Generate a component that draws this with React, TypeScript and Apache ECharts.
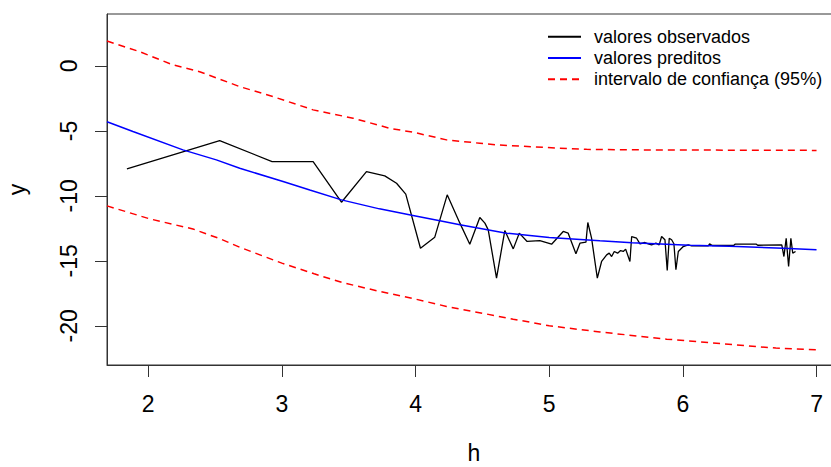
import React, { useEffect, useRef } from "react";
import * as echarts from "echarts";

// observed values (h, y)
const obsX = [1.841, 2.535, 2.927, 3.234, 3.446, 3.633, 3.77, 3.858, 3.927, 4.037, 4.144, 4.237, 4.332, 4.406, 4.481, 4.519, 4.544, 4.606, 4.668, 4.731, 4.776, 4.835, 4.93, 5.018, 5.105, 5.142, 5.2, 5.23, 5.275, 5.289, 5.317, 5.36, 5.392, 5.43, 5.449, 5.467, 5.487, 5.512, 5.534, 5.554, 5.572, 5.604, 5.617, 5.654, 5.679, 5.716, 5.741, 5.766, 5.798, 5.823, 5.841, 5.866, 5.883, 5.898, 5.916, 5.933, 5.948, 5.966, 6.003, 6.04, 6.066, 6.19, 6.2, 6.22, 6.38, 6.39, 6.55, 6.56, 6.74, 6.756, 6.773, 6.791, 6.808, 6.822, 6.843];
const obsY = [-7.92, -5.75, -7.36, -7.36, -10.49, -8.13, -8.46, -9.03, -9.87, -14.03, -13.18, -9.92, -12.1, -13.72, -11.67, -12.1, -12.62, -16.33, -12.67, -14.08, -12.87, -13.51, -13.44, -13.72, -12.74, -12.87, -14.46, -13.64, -13.56, -12.05, -13.26, -16.33, -15.05, -14.54, -14.41, -14.67, -14.28, -14.41, -14.21, -14.28, -14.1, -15.05, -13.13, -13.26, -13.69, -13.59, -13.69, -13.77, -13.64, -13.77, -13.13, -13.38, -15.75, -13.26, -13.38, -13.69, -15.69, -14.28, -13.9, -13.77, -13.85, -13.85, -13.7, -13.82, -13.82, -13.72, -13.72, -13.8, -13.78, -14.67, -13.26, -15.44, -13.26, -14.41, -14.28];

// predicted values
const predX = [1.692, 1.886, 2.26, 2.51, 2.685, 3.009, 3.209, 3.446, 3.73, 4.0, 4.182, 4.332, 4.681, 5.0, 5.379, 5.62, 6.05, 6.35, 6.75, 7.0];
const predY = [-4.3, -5.05, -6.46, -7.23, -7.87, -8.9, -9.55, -10.31, -11.0, -11.55, -11.92, -12.23, -12.87, -13.2, -13.46, -13.6, -13.8, -13.88, -14.03, -14.15];

// upper 95% bound
const upX = [1.692, 1.936, 2.186, 2.385, 2.685, 2.934, 3.234, 3.533, 3.808, 3.982, 4.232, 4.481, 4.606, 4.98, 5.28, 5.68, 6.3, 7.0];
const upY = [1.92, 1.1, 0.08, -0.44, -1.59, -2.36, -3.38, -4.02, -4.8, -5.1, -5.69, -5.95, -6.08, -6.28, -6.42, -6.46, -6.48, -6.5];

// lower 95% bound
const loX = [1.692, 2.011, 2.335, 2.537, 2.684, 3.0, 3.242, 3.451, 3.733, 4.0, 4.232, 4.533, 4.731, 5.0, 5.38, 5.879, 6.378, 6.696, 7.0];
const loY = [-10.77, -11.77, -12.55, -13.3, -13.95, -15.18, -16.0, -16.67, -17.36, -17.95, -18.51, -19.1, -19.49, -20.0, -20.48, -21.03, -21.46, -21.72, -21.85];

const xTicks = [2, 3, 4, 5, 6, 7];
const yTicks = [-20, -15, -10, -5, 0];

const NAME_OBS = "valores observados";
const NAME_PRED = "valores preditos";
const NAME_CI = "intervalo de confiança (95%)";

const FONT = "Arial, 'Liberation Sans', sans-serif";

const zip = (xs: number[], ys: number[]) => xs.map((x, i) => [x, ys[i]]);

export default function App() {
  const ref = useRef<HTMLDivElement>(null);
  useEffect(() => {
    if (!ref.current) return;
    const chart = echarts.init(ref.current, undefined, { renderer: "svg" });
    chart.setOption({
      animation: false,
      backgroundColor: "#ffffff",
      textStyle: { fontFamily: FONT },
      grid: {
        left: 107,
        top: 14,
        right: -10,
        bottom: 102,
        containLabel: false,
        outerBoundsMode: "none",
        show: true,
        borderColor: "#333",
        borderWidth: 1,
        backgroundColor: "transparent",
      },
      legend: {
        orient: "vertical",
        left: 547,
        top: 26,
        padding: 0,
        itemGap: 0,
        itemWidth: 33,
        itemHeight: 2,
        itemStyle: { opacity: 0 },
        textStyle: {
          fontFamily: FONT,
          fontSize: 18,
          color: "#000",
          lineHeight: 21.3,
          padding: [0, 0, 0, 8],
        },
        data: [NAME_OBS, NAME_PRED, NAME_CI],
      },
      xAxis: {
        type: "value",
        min: 1.692,
        max: 7.183,
        name: "h",
        nameLocation: "middle",
        nameGap: 76,
        nameTextStyle: { fontFamily: FONT, fontSize: 23, color: "#000" },
        axisLine: { show: true, onZero: false, lineStyle: { color: "#333", width: 1 } },
        axisTick: { show: true, length: 12, inside: false, customValues: xTicks, lineStyle: { color: "#333" } },
        axisLabel: { show: true, customValues: xTicks, margin: 27, fontSize: 23, color: "#000", fontFamily: FONT },
        splitLine: { show: false },
      },
      yAxis: {
        type: "value",
        min: -23.02,
        max: 4.0,
        name: "y",
        nameLocation: "middle",
        nameGap: 79,
        nameRotate: 90,
        nameTextStyle: { fontFamily: FONT, fontSize: 23, color: "#000" },
        axisLine: { show: true, onZero: false, lineStyle: { color: "#333", width: 1 } },
        axisTick: { show: true, length: 12, inside: false, customValues: yTicks, lineStyle: { color: "#333" } },
        axisLabel: { show: true, customValues: yTicks, rotate: 90, margin: 27, fontSize: 23, color: "#000", fontFamily: FONT },
        splitLine: { show: false },
      },
      series: [
        {
          name: NAME_OBS,
          type: "line",
          data: zip(obsX, obsY),
          showSymbol: false,
          symbol: "none",
          lineStyle: { color: "#000", width: 1.3 },
          itemStyle: { color: "#000" },
        },
        {
          name: NAME_PRED,
          type: "line",
          data: zip(predX, predY),
          showSymbol: false,
          symbol: "none",
          lineStyle: { color: "#0000ff", width: 1.5 },
          itemStyle: { color: "#0000ff" },
        },
        {
          name: NAME_CI,
          type: "line",
          data: zip(upX, upY),
          showSymbol: false,
          symbol: "none",
          lineStyle: { color: "#ff0000", width: 1.5, type: [7, 5] },
          itemStyle: { color: "#ff0000" },
        },
        {
          name: NAME_CI,
          type: "line",
          data: zip(loX, loY),
          showSymbol: false,
          symbol: "none",
          lineStyle: { color: "#ff0000", width: 1.5, type: [7, 5] },
          itemStyle: { color: "#ff0000" },
        },
      ],
    });
    return () => chart.dispose();
  }, []);
  return (
    <div
      ref={ref}
      style={{ position: "absolute", left: 0, top: 0, width: 831, height: 467, overflow: "hidden" }}
    />
  );
}
